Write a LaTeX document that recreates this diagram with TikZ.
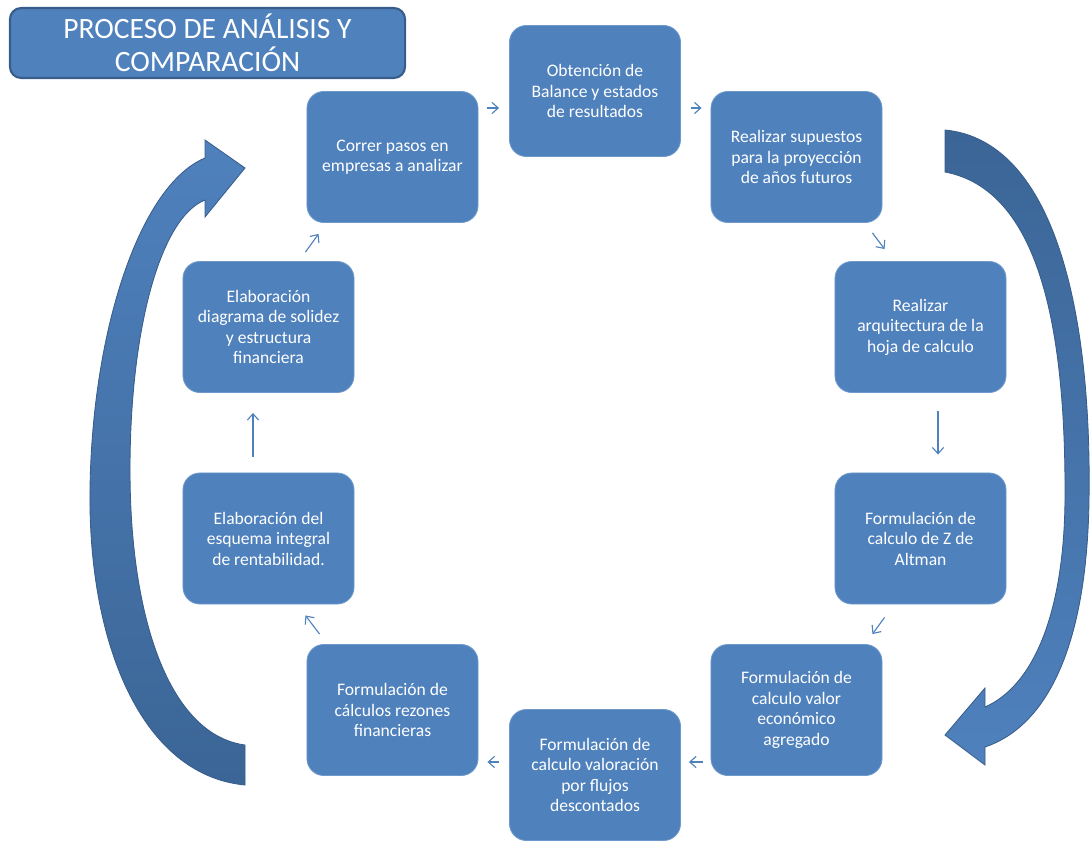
\documentclass[tikz,border=0pt]{standalone}
\usepackage{fontspec}
\setmainfont{Carlito}
\usetikzlibrary{arrows.meta}
\definecolor{azul}{HTML}{4F81BD}
\definecolor{azuloscuro}{HTML}{385D8A}
\definecolor{azulsombra}{HTML}{3B6596}
\definecolor{bordecaja}{HTML}{6E9ACC}

\begin{document}
\begin{tikzpicture}[x=0.025cm, y=-0.025cm,
  paso/.style={draw=bordecaja, line width=0.6pt, fill=azul, rounded corners=12pt,
    minimum width=4.275cm, minimum height=3.275cm, inner sep=0pt, align=center,
    text=white, font=\fontsize{12.5}{14.6}\selectfont},
  titulo/.style={draw=azuloscuro, line width=1.5pt, fill=azul, rounded corners=8pt,
    minimum width=9.875cm, minimum height=1.75cm, inner sep=0pt, align=center,
    text=white, font=\fontsize{21}{23.5}\selectfont},
  flecha/.style={draw=azul, line width=0.8pt, -{Straight Barb[length=4.5pt,width=8pt]}},
  curva/.style={draw=azuloscuro, line width=0.6pt}]
\useasboundingbox (0,0) rectangle (1091,841);

% Big curved arrows (cycle)
\path[curva, top color=azul, bottom color=azulsombra]
  (245,785) .. controls (140,775) and (88,640) .. (90,490)
  .. controls (92,330) and (140,185) .. (205,158)
  -- (205,140) -- (245,168) -- (205,217) -- (205,200)
  .. controls (160,218) and (130,330) .. (130,470)
  .. controls (130,620) and (170,735) .. (245,745) -- cycle;
\path[curva, top color=azulsombra, bottom color=azul]
  (945,130) .. controls (1050,140) and (1092,300) .. (1089,500)
  .. controls (1087,640) and (1050,725) .. (985,747)
  -- (985,765) -- (945,735) -- (985,688) -- (985,707)
  .. controls (1035,685) and (1064,610) .. (1065,500)
  .. controls (1066,330) and (1040,190) .. (945,172) -- cycle;

% Title
\node[titulo] (titulo) at (207.5,43) {PROCESO DE ANÁLISIS Y\\COMPARACIÓN};

% Steps (rounded boxes)
\node[paso] (b1) at (595,91) {Obtención de\\Balance y estados\\de resultados};
\node[paso] (b2) at (796.5,157) {Realizar supuestos\\para la proyección\\de años futuros};
\node[paso] (b3) at (920.5,327) {Realizar\\arquitectura de la\\hoja de calculo};
\node[paso] (b4) at (920.5,538.5) {Formulación de\\calculo de Z de\\Altman};
\node[paso] (b5) at (796.5,710) {Formulación de\\calculo valor\\económico\\agregado};
\node[paso] (b6) at (595,775) {Formulación de\\calculo valoración\\por flujos\\descontados};
\node[paso] (b7) at (392.5,710) {Formulación de\\cálculos rezones\\financieras};
\node[paso] (b8) at (268.5,538.5) {Elaboración del\\esquema integral\\de rentabilidad.};
\node[paso] (b9) at (268.5,327) {Elaboración\\diagrama de solidez\\y estructura\\financiera};
\node[paso] (b10) at (392.5,157) {Correr pasos en\\empresas a analizar};

% Small arrows between steps
\draw[flecha] ([shift={(9,-49)}]b10.east) -- ([shift={(-10,17)}]b1.west);
\draw[flecha] ([shift={(10,17)}]b1.east) -- ([shift={(-9,-49)}]b2.west);
\draw[flecha] ([shift={(-10,10)}]b2.south east) -- ([shift={(50,-12)}]b3.north west);
\draw[flecha] ([shift={(17.5,18)}]b3.south) -- ([shift={(17.5,-18)}]b4.north);
\draw[flecha] ([shift={(50,13)}]b4.south west) -- ([shift={(-10,-10)}]b5.north east);
\draw[flecha] ([shift={(-8,52)}]b5.west) -- ([shift={(8,-13)}]b6.east);
\draw[flecha] ([shift={(-10,-13)}]b6.west) -- ([shift={(9,52)}]b7.east);
\draw[flecha] ([shift={(13,-10)}]b7.north west) -- ([shift={(-49,11)}]b8.south east);
\draw[flecha] ([shift={(-15.5,-16)}]b8.north) -- ([shift={(-15.5,20)}]b9.south);
\draw[flecha] ([shift={(-49,-9)}]b9.north east) -- ([shift={(12,11)}]b10.south west);

\end{tikzpicture}
\end{document}
